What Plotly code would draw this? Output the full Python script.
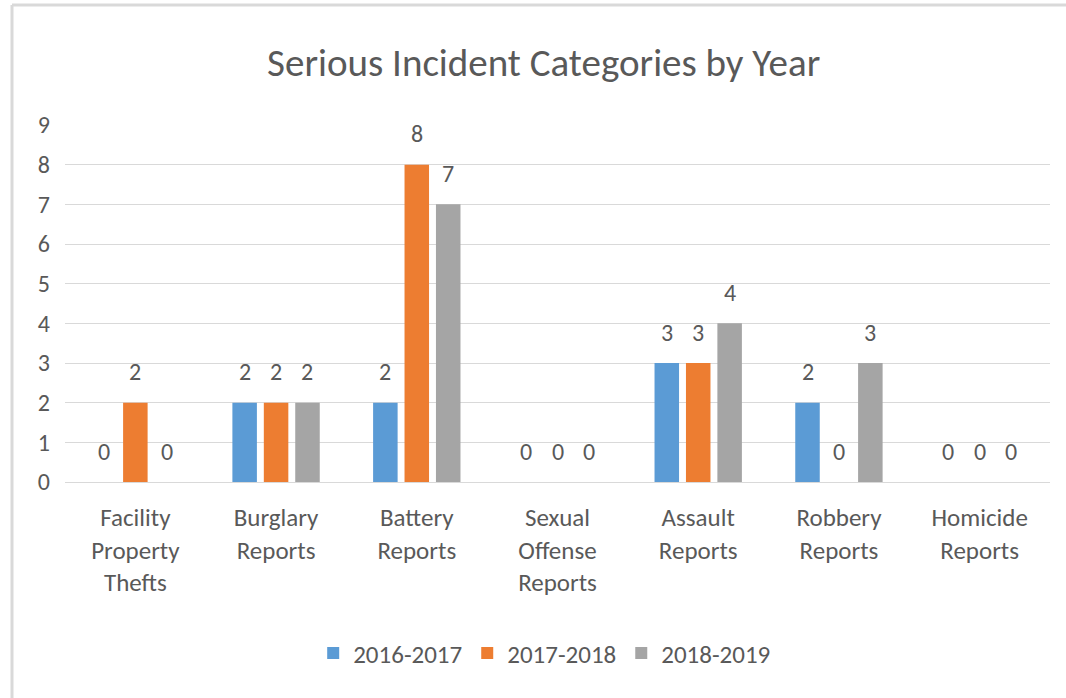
import plotly.graph_objects as go

# Categorías y valores
categories = [
    "Facility<br>Property<br>Thefts",
    "Burglary<br>Reports",
    "Battery<br>Reports",
    "Sexual<br>Offense<br>Reports",
    "Assault<br>Reports",
    "Robbery<br>Reports",
    "Homicide<br>Reports",
]
y2016_2017 = [0, 2, 2, 0, 3, 2, 0]
y2017_2018 = [2, 2, 8, 0, 3, 0, 0]
y2018_2019 = [0, 2, 7, 0, 4, 3, 0]
series_names = ["2016-2017", "2017-2018", "2018-2019"]
y_ticks = list(range(0, 10))

colors = ["#5b9bd5", "#ed7d31", "#a5a5a5"]
FONT = "Carlito, Liberation Sans Narrow, Arial Narrow, sans-serif"
GREY = "#595959"

fig = go.Figure()
all_series = [y2016_2017, y2017_2018, y2018_2019]
for name, vals, c in zip(series_names, all_series, colors):
    fig.add_trace(go.Bar(
        x=categories, y=vals, name=name,
        marker=dict(color=c, line=dict(width=0)),
        cliponaxis=False,
    ))

# etiquetas de datos (arriba de cada barra)
annotations = []
for i, vals in enumerate(all_series):
    for cat, v in zip(categories, vals):
        annotations.append(dict(
            x=cat, y=v, text=str(v), showarrow=False,
            xshift=(i - 1) * 31.4, yshift=31, yanchor="middle",
            font=dict(size=24, color=GREY, family=FONT),
        ))

fig.update_layout(
    width=1066, height=698,
    paper_bgcolor="white", plot_bgcolor="white",
    font=dict(family=FONT, size=24, color=GREY),
    title=dict(text="Serious Incident Categories by Year", x=0.51, xanchor="center",
               y=0.911, yanchor="middle", font=dict(size=39, color=GREY, family=FONT)),
    barmode="group", bargap=0.33, bargroupgap=0.22,
    margin=dict(l=65, r=16, t=125, b=216),
    legend=dict(orientation="h", x=0.487, xanchor="center", y=-0.48, yanchor="middle",
                font=dict(size=25, color=GREY), itemwidth=30),
    xaxis=dict(showgrid=False, ticks="", showline=False, tickfont=dict(size=25, color=GREY),
               ticklabelstandoff=18),
    yaxis=dict(range=[0, 9], tickvals=y_ticks, showgrid=True, gridcolor="#d9d9d9", gridwidth=1,
               zeroline=True, zerolinecolor="#d9d9d9", zerolinewidth=1,
               tickfont=dict(size=24, color=GREY), ticklabelstandoff=14),
    annotations=annotations,
    shapes=[
        dict(type="line", xref="paper", yref="paper", x0=-0.0538, x1=-0.0538, y0=-1.0, y1=1.336,
             line=dict(color="#d9d9d9", width=3)),
        dict(type="line", xref="paper", yref="paper", x0=-0.0538, x1=1.2, y0=1.336, y1=1.336,
             line=dict(color="#d9d9d9", width=3)),
    ],
)

fig.write_html("out.html", config={"displayModeBar": False},
               post_script="document.body.style.margin='0';")
